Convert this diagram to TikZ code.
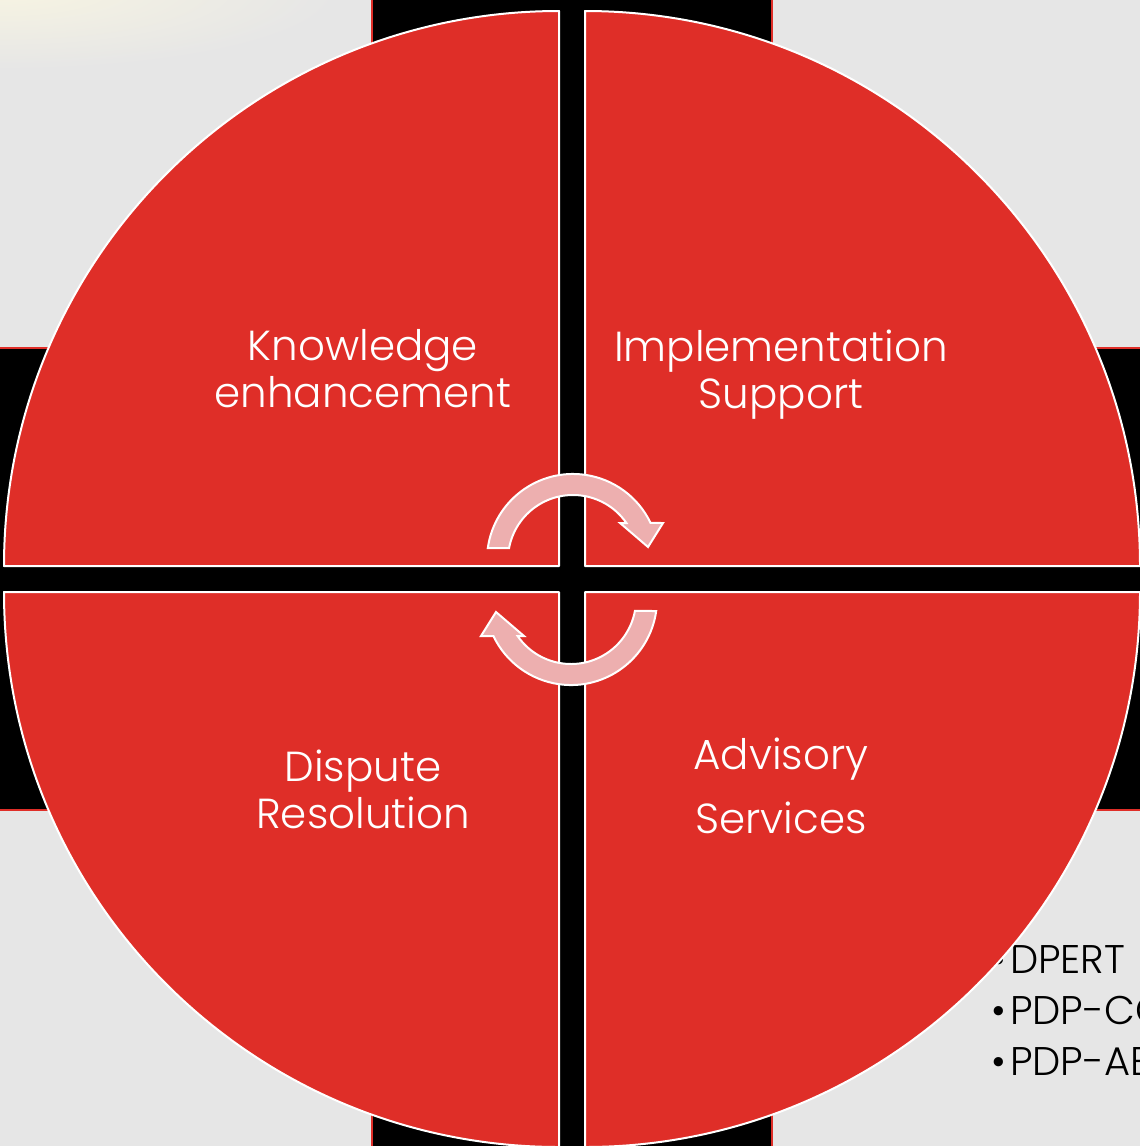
\documentclass[tikz,border=0pt]{standalone}
\usepackage{fontspec}
\setmainfont{Poppins}
\newfontfamily\lightfont{Poppins Light}
\definecolor{bg}{RGB}{230,230,230}
\definecolor{qred}{RGB}{223,46,40}
\definecolor{apink}{RGB}{237,175,175}
\definecolor{glow}{RGB}{247,244,226}
\definecolor{crossred}{RGB}{223,46,40}
\tikzset{
  quad/.style={fill=qred, draw=white, line width=1pt, line join=round},
  lbl/.style={text=white, align=center, inner sep=0pt, font=\lightfont\fontsize{21}{23.5}\selectfont},
  cyc/.pic={
    \draw[fill=apink, draw=white, line width=1pt, line join=miter]
      (-85.2,-12) arc[start angle=-172, end angle=-25.5, radius=86]
      -- (90,-37) -- (75,-13) -- (47,-37) -- (53.4,-37)
      arc[start angle=-34.7, end angle=-169.4, radius=65] -- cycle;
  }
}
\begin{document}
\begin{tikzpicture}[x=0.5pt, y=-0.5pt]
\useasboundingbox (0,0) rectangle (1140,1146);
\clip (0,0) rectangle (1140,1146);
% background
\fill[bg] (0,0) rectangle (1140,1146);
\shade[inner color=glow, outer color=bg] (0,-10) ellipse [x radius=340, y radius=80];
% black cross behind the circle
\draw[fill=black, draw=crossred, line width=1pt]
  (372,-10) -- (772,-10) -- (772,348) -- (1150,348) -- (1150,810) -- (772,810)
  -- (772,1156) -- (372,1156) -- (372,810) -- (-10,810) -- (-10,348) -- (372,348) -- cycle;
% bullet list partly hidden behind the circle
\node[anchor=base west, align=left, inner sep=0pt, text=black,
      font=\lightfont\fontsize{20}{25.5}\selectfont] (list) at (991,1075)
  {\textbullet\hspace{2pt}DPERT\\\textbullet\hspace{2pt}PDP-CO\\\textbullet\hspace{2pt}PDP-AE};
% quadrants
\draw[quad] (559,566) -- (4,566) arc[start angle=180, end angle=270, radius=555] -- cycle;
\draw[quad] (585,566) -- (585,11) arc[start angle=270, end angle=360, radius=555] -- cycle;
\draw[quad] (559,592) -- (4,592) arc[start angle=180, end angle=90, radius=555] -- cycle;
\draw[quad] (585,592) -- (1140,592) arc[start angle=0, end angle=90, radius=555] -- cycle;
% circular arrows
\pic at (573,560) {cyc};
\pic[rotate=180] at (571,599) {cyc};
% labels
\node[lbl, anchor=base] (ke) at (363,407) {Knowledge\\enhancement};
\node[lbl, anchor=base] (is) at (781,408) {Implementation\\Support};
\node[lbl, anchor=base] (dr) at (363,828) {Dispute\\Resolution};
\node[lbl, anchor=base, font=\lightfont\fontsize{21}{32}\selectfont] (as) at (781,833) {Advisory\\Services};
\end{tikzpicture}
\end{document}
